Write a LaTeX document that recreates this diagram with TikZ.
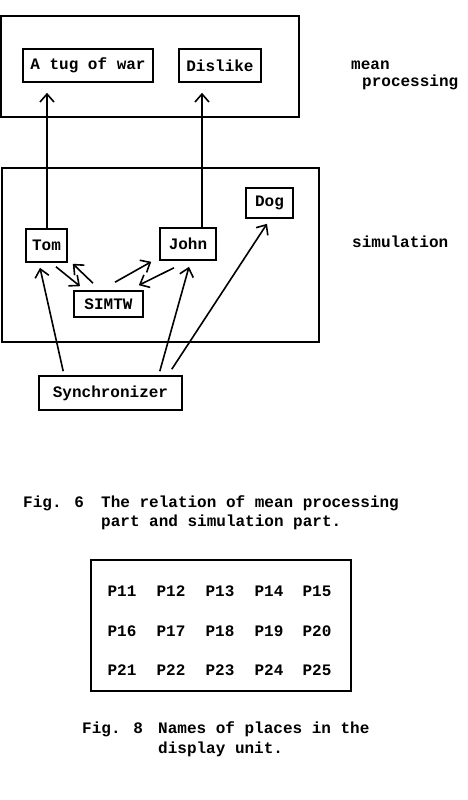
\documentclass[tikz,border=0pt]{standalone}
\usepackage{fontspec}
\setmainfont{Liberation Mono}
\usetikzlibrary{arrows.meta}
\tikzset{
  txt/.style={font=\fontsize{16}{19}\bfseries\selectfont},
  boxnode/.style={draw, line width=1.6pt, inner sep=0pt, txt},
  frame/.style={draw, line width=1.6pt},
  arr/.style={line width=1.6pt, -{Straight Barb[length=8pt,width=14pt]}},
  lbl/.style={inner sep=0pt, anchor=base west, txt},
  cell/.style={inner sep=0pt, anchor=base, txt}
}
\begin{document}
\begin{tikzpicture}[x=1pt,y=-1pt]
\useasboundingbox[fill=white] (0,0) rectangle (468,800);
% frames
\draw[frame] (1,16) rectangle (299,117);
\draw[frame] (2,168) rectangle (319,342);
% nodes
\node[boxnode, minimum width=130pt, minimum height=33pt] (tug) at (88,65.5) {A tug of war};
\node[boxnode, minimum width=82pt, minimum height=33pt] (dislike) at (220,65.5) {Dislike};
\node[boxnode, minimum width=41pt, minimum height=33pt] (tom) at (46.5,245.5) {Tom};
\node[boxnode, minimum width=56pt, minimum height=32pt] (john) at (188,244) {John};
\node[boxnode, minimum width=47pt, minimum height=30pt] (dog) at (269.5,203) {Dog};
\node[boxnode, minimum width=69pt, minimum height=26pt] (simtw) at (108.5,304) {SIMTW};
\node[boxnode, minimum width=143pt, minimum height=34pt] (sync) at (110.5,393) {Synchronizer};
% side labels
\node[lbl] (mean) at (351,70) {mean};
\node[lbl] (proc) at (362,86) {processing};
\node[lbl] (simlbl) at (352,247) {simulation};
% connectors
\draw[arr, shorten >=10pt] ([xshift=0.5pt]tom.north) -- ([xshift=0.5pt]tom.north |- tug.south);
\draw[arr, shorten >=10pt] ([xshift=14pt]john.north) -- ([xshift=-18pt]dislike.south);
\draw[arr] ([shift={(9.5,4)}]tom.south) -- ([shift={(-28.5,-4)}]simtw.north);
\draw[arr] ([shift={(-15.5,-7)}]simtw.north) -- ([shift={(5,1)}]tom.south east);
\draw[arr] ([shift={(6.5,-8)}]simtw.north) -- ([shift={(-8,1)}]john.south west);
\draw[arr] ([shift={(-14,7)}]john.south) -- ([shift={(-5,-5)}]simtw.north east);
\draw[arr] ([shift={(25,-4)}]sync.north west) -- ([shift={(-6.5,5)}]tom.south);
\draw[arr] ([shift={(-23,-4)}]sync.north east) -- ([shift={(1,6)}]john.south);
\draw[arr] ([shift={(-11,-6)}]sync.north east) -- ([shift={(-2.5,5)}]dog.south);
% caption fig 6
\node[lbl] (f6) at (23,507) {Fig. 6};
\node[lbl] (c6a) at (101,507) {The relation of mean processing};
\node[lbl] (c6b) at (101,526) {part and simulation part.};
% grid
\draw[frame] (91,560) rectangle (351,691);
\foreach \r/\y in {0/596,1/636,2/675}{
  \foreach \c/\x in {1/122,2/171,3/220,4/269,5/317}{
    \pgfmathtruncatemacro{\n}{10+5*\r+\c}
    \node[cell] (p\n) at (\x,\y) {P\n};
  }
}
% caption fig 8
\node[lbl] (f8) at (82,733) {Fig. 8};
\node[lbl] (c8a) at (158,733) {Names of places in the};
\node[lbl] (c8b) at (158,753) {display unit.};
\end{tikzpicture}
\end{document}
